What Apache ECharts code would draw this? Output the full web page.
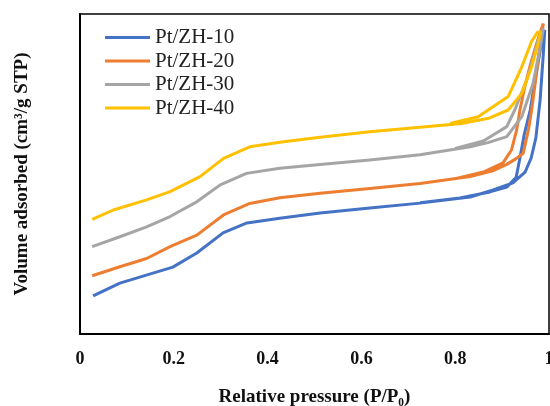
<!DOCTYPE html>
<html>
<head>
<meta charset="utf-8">
<script src="https://cdn.jsdelivr.net/npm/echarts@6/dist/echarts.min.js"></script>
<style>
  html, body { margin: 0; padding: 0; background: #fff; }
  #main { width: 550px; height: 406px; }
</style>
</head>
<body>
<div id="main"></div>
<script>
// isotherm loops: adsorption branch up, then desorption branch back down
const names = ['Pt/ZH-10', 'Pt/ZH-20', 'Pt/ZH-30', 'Pt/ZH-40'];
const colors = ['#4472C4', '#ED7D31', '#A5A5A5', '#FFC000'];
const xTicks = [0, 0.2, 0.4, 0.6, 0.8, 1];

const pz10 = [
  [0.028, 11.9], [0.085, 15.9], [0.198, 20.9], [0.249, 25.3], [0.305, 31.6],
  [0.356, 34.7], [0.426, 36.2], [0.512, 37.8], [0.618, 39.4], [0.725, 40.9],
  [0.832, 42.8], [0.881, 45.0], [0.923, 47.2], [0.949, 50.6], [0.962, 55],
  [0.972, 61.3], [0.981, 73], [0.987, 85.6], [0.991, 95],
  [0.984, 91], [0.974, 82.5], [0.960, 70], [0.947, 62.2], [0.938, 55],
  [0.930, 49], [0.910, 45.9], [0.874, 44.4], [0.81, 42.5], [0.725, 41.0]
];
const pz20 = [
  [0.026, 18.2], [0.085, 21], [0.142, 23.6], [0.192, 27.3], [0.249, 30.9],
  [0.306, 37.2], [0.362, 40.8], [0.426, 42.6], [0.512, 44], [0.618, 45.5],
  [0.725, 47], [0.832, 49.2], [0.88, 51], [0.91, 53], [0.93, 54.8],
  [0.945, 56.5], [0.956, 63.7], [0.963, 70], [0.972, 80], [0.98, 89], [0.988, 97],
  [0.983, 95], [0.972, 90], [0.960, 84], [0.948, 77], [0.938, 70],
  [0.931, 63.7], [0.92, 57.5], [0.902, 53.5], [0.86, 50.6], [0.8, 48.5]
];
const pz30 = [
  [0.026, 27.3], [0.085, 30.4], [0.142, 33.5], [0.192, 36.7], [0.249, 41.3],
  [0.299, 46.6], [0.355, 50.2], [0.426, 51.8], [0.512, 53], [0.618, 54.4],
  [0.725, 56], [0.832, 58.5], [0.87, 59.8], [0.91, 61.7], [0.942, 67.9],
  [0.966, 78.3], [0.984, 91.9], [0.988, 95.5],
  [0.984, 95], [0.977, 91.9], [0.955, 80.4], [0.927, 70], [0.91, 64.8],
  [0.86, 60.3], [0.8, 58]
];
const pz40 = [
  [0.026, 35.8], [0.071, 38.75], [0.142, 41.9], [0.192, 44.5], [0.256, 49.2],
  [0.306, 54.9], [0.362, 58.5], [0.426, 59.9], [0.512, 61.5], [0.618, 63.2],
  [0.725, 64.6], [0.814, 65.8], [0.871, 67.4], [0.913, 70], [0.942, 75.2],
  [0.963, 83.5], [0.977, 90.8], [0.982, 94.5],
  [0.975, 94.2], [0.963, 91.5], [0.942, 83.5], [0.913, 74.2], [0.849, 67.9],
  [0.789, 65.8]
];
const loops = [pz10, pz20, pz30, pz40];

const chart = echarts.init(document.getElementById('main'));
const serif = '"Liberation Serif", "Times New Roman", serif';

chart.setOption({
  animation: false,
  grid: {
    left: 80, top: 14, right: 1, bottom: 72,
    outerBoundsMode: 'none', containLabel: false,
    show: true, borderColor: '#000', borderWidth: 1.5
  },
  legend: {
    orient: 'vertical',
    left: 100, top: 22,
    itemWidth: 45, itemHeight: 3, itemGap: 2.5,
    icon: 'rect',
    textStyle: { fontFamily: serif, fontSize: 21, lineHeight: 21, color: '#222' },
    data: names
  },
  xAxis: {
    type: 'value', min: 0, max: 1, interval: 0.2,
    name: 'Relative pressure (P/P\u2080)',
    nameLocation: 'middle', nameGap: 54,
    nameTextStyle: { fontFamily: serif, fontSize: 19, fontWeight: 'bold', color: '#111' },
    axisLine: { lineStyle: { color: '#000', width: 2 } },
    axisTick: { show: false },
    splitLine: { show: false },
    axisLabel: {
      margin: 16, fontFamily: serif, fontSize: 18, fontWeight: 'bold', color: '#111',
      formatter: v => String(xTicks.find(t => Math.abs(t - v) < 1e-9) ?? v)
    }
  },
  yAxis: {
    type: 'value', min: 0, max: 100,
    name: 'Volume adsorbed (cm\u00b3/g STP)',
    nameLocation: 'middle', nameGap: 48,
    nameTextStyle: { fontFamily: serif, fontSize: 19, fontWeight: 'bold', color: '#111' },
    axisLine: { show: true, lineStyle: { color: '#000', width: 2 } },
    axisTick: { show: false },
    axisLabel: { show: false },
    splitLine: { show: false }
  },
  series: loops.map((d, i) => ({
    name: names[i],
    type: 'line',
    data: d,
    showSymbol: false,
    color: colors[i],
    lineStyle: { width: 3, color: colors[i] }
  }))
});
</script>
</body>
</html>
